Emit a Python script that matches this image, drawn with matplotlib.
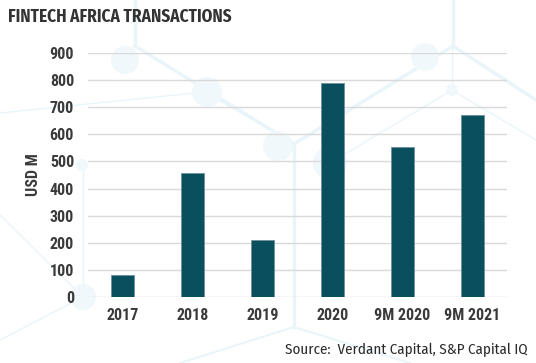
import matplotlib
matplotlib.use("Agg")
import matplotlib.pyplot as plt
from matplotlib.patches import Circle
from matplotlib.lines import Line2D

categories = ["2017", "2018", "2019", "2020", "9M 2020", "9M 2021"]
values = [81, 456, 209, 790, 552, 671]
yticks = [0, 100, 200, 300, 400, 500, 600, 700, 800, 900]

BAR = "#0a4f5e"
TXT = "#3a3a3a"
NET = "#eaf5fa"
TICKFONT = ["Roboto Condensed", "Archivo Narrow", "DejaVu Sans"]
TITLEFONT = ["Fira Sans Condensed", "Roboto Condensed", "DejaVu Sans"]
SRCFONT = ["Fira Sans Condensed", "Roboto Condensed", "DejaVu Sans"]

W, H = 536, 363
fig = plt.figure(figsize=(W / 100, H / 100), dpi=100)
fig.patch.set_facecolor("white")

# faint hexagon network in the background (pixel coords, y from top)
def px(x, y):
    return x / W, 1 - y / H

segs = [
    ((135, 0), (135, 46), 2.5), ((135, 46), (294, 144), 2.5),
    ((294, 144), (294, 327), 2.5), ((294, 144), (453, 46), 2.5),
    ((453, 0), (453, 46), 2.5), ((453, 46), (536, 100), 2.5),
    ((294, 327), (180, 363), 1.5), ((294, 327), (410, 363), 1.5),
    ((0, 113), (205, 92), 1.0), ((205, 92), (294, 144), 1.0),
    ((452, 90), (330, 163), 1.0), ((452, 90), (536, 140), 1.0),
    ((83, 165), (83, 297), 1.0), ((83, 297), (0, 340), 1.0),
    ((0, 215), (83, 297), 1.0), ((452, 90), (452, 46), 1.0),
]
for a, b, lw in segs:
    (x0, y0), (x1, y1) = px(*a), px(*b)
    fig.add_artist(Line2D([x0, x1], [y0, y1], color=NET, lw=lw, zorder=0))

nodes = [(207, 92, 15), (125, 60, 14), (425, 57, 14), (452, 90, 6),
         (330, 163, 17), (278, 146, 15), (83, 297, 13), (82, 165, 6)]
for x, y, r in nodes:
    fig.add_artist(Circle((x, H - y), r, transform=None, color="#f1f8fb",
                          zorder=0, lw=0))

ax = fig.add_axes([88 / W, 1 - 297 / H, (507 - 88) / W, (297 - 53) / H])
ax.patch.set_alpha(0)

xs = range(len(categories))
ax.bar(xs, values, width=0.33, color=BAR, edgecolor="#6f919b",
       linewidth=0.6, zorder=3)

ax.set_xlim(-0.5, 5.5)
ax.set_ylim(0, 900)
ax.set_yticks(yticks)
ax.set_xticks(list(xs))
ax.set_xticklabels(categories)
ax.grid(axis="y", color="#d9d9d9", linewidth=1.0, zorder=0)
for s in ax.spines.values():
    s.set_visible(False)
ax.tick_params(axis="both", length=0, labelcolor=TXT, labelsize=11.5)
ax.tick_params(axis="y", pad=10)
ax.tick_params(axis="x", pad=8)
for lab in ax.get_xticklabels() + ax.get_yticklabels():
    lab.set_family(TICKFONT)
    lab.set_fontweight("bold")

ax.set_ylabel("USD M", family=TICKFONT, fontweight="bold", color=TXT,
              fontsize=11.5, labelpad=6)

fig.text(8 / W, 1 - 17 / H, "FINTECH AFRICA TRANSACTIONS", family=TITLEFONT,
         fontweight="bold", fontsize=12.4, color="#333333", va="center")
fig.text(528 / W, 1 - 350 / H, "Source:  Verdant Capital, S&P Capital IQ",
         family=SRCFONT, fontsize=10.8, color="#2b2b2b", ha="right",
         va="center")

fig.savefig("out.png", dpi=100)
